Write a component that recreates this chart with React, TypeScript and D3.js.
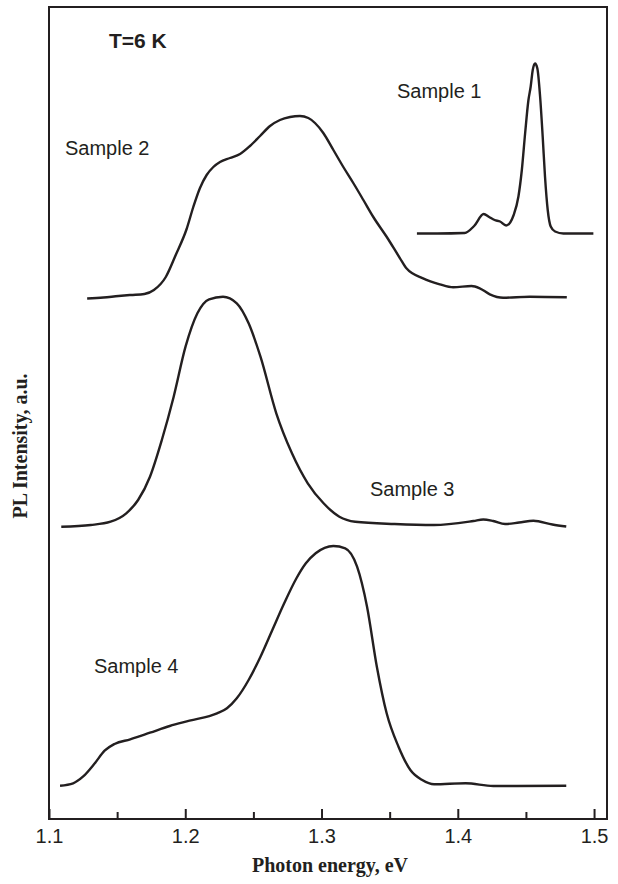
import React, { useEffect, useRef } from "react";
import * as d3 from "d3";

// Photon energy (eV) and PL intensity (a.u., above each trace's own baseline)
const sample1Energy = [1.37, 1.385, 1.405, 1.412, 1.419, 1.423, 1.427, 1.431, 1.4355, 1.441, 1.4445, 1.447, 1.4494, 1.4518, 1.4535, 1.455, 1.4567, 1.4584, 1.4604, 1.4623, 1.464, 1.466, 1.4682, 1.4714, 1.4775, 1.49, 1.4995];
const sample1Intensity = [0, 0, 0.5, 7.5, 19.5, 16.5, 13.5, 12, 8, 18.5, 37, 63.5, 100, 133, 147, 163.5, 170, 165, 137, 97, 57, 23.5, 7, 2, 0, 0, 0];

const sample2Energy = [1.128, 1.14, 1.151, 1.16, 1.17, 1.177, 1.1857, 1.193, 1.201, 1.2059, 1.2108, 1.2157, 1.2206, 1.2255, 1.2328, 1.2402, 1.2475, 1.2549, 1.2622, 1.2695, 1.2769, 1.2842, 1.2903, 1.2952, 1.3013, 1.3087, 1.316, 1.3233, 1.3307, 1.338, 1.3479, 1.3576, 1.3623, 1.3745, 1.3868, 1.3966, 1.4101, 1.4161, 1.4235, 1.4333, 1.4528, 1.48];
const sample2Intensity = [-1.5, -0.5, 1, 2, 3, 7, 20, 42, 68, 90, 109, 122, 130, 135, 139, 143, 151, 161, 171, 177, 180, 181, 179, 174, 164, 147, 130, 114, 97, 80, 60, 38.7, 28.7, 18.7, 12.7, 9.7, 11, 8.7, 2.7, -0.7, 0.3, -0.3];

const sample3Energy = [1.109, 1.1307, 1.1452, 1.1567, 1.1654, 1.1741, 1.1828, 1.1915, 1.2002, 1.2089, 1.2175, 1.2277, 1.2378, 1.2465, 1.2552, 1.2668, 1.2783, 1.2899, 1.3015, 1.3131, 1.3247, 1.3536, 1.3826, 1.4115, 1.4187, 1.426, 1.4347, 1.445, 1.4555, 1.4694, 1.4796];
const sample3Intensity = [-1.7, 0, 3.3, 11.7, 25, 48.3, 85, 128.3, 178.3, 211.7, 225.7, 228.3, 221.7, 201.7, 168.3, 111.7, 71.7, 41.7, 21.7, 8.3, 3.3, 1, 0, 4, 5.5, 4, 1, 2.5, 4.3, 0.5, -1.5];

const sample4Energy = [1.1081, 1.1177, 1.1249, 1.1336, 1.1408, 1.1481, 1.1596, 1.1741, 1.1886, 1.2031, 1.2233, 1.2306, 1.2378, 1.2465, 1.2552, 1.2639, 1.2726, 1.2813, 1.2885, 1.2957, 1.3087, 1.3174, 1.3261, 1.3334, 1.3406, 1.3478, 1.3565, 1.3652, 1.3739, 1.3826, 1.4057, 1.426, 1.4796];
const sample4Intensity = [-0.7, 1.7, 8.3, 21.7, 34.3, 41, 45.7, 52.3, 59, 64.3, 71.7, 76.7, 86.7, 105, 128.3, 155, 181.7, 206, 221.7, 231.7, 239, 236.7, 218.3, 178.3, 118.3, 71.7, 38.3, 15, 5, 0.7, 1.7, -1, -0.7];

// vertical offsets of the stacked traces (a.u.)
const sampleOffsets = [585.5, 522, 294, 34];
const sampleNames = ["Sample 1", "Sample 2", "Sample 3", "Sample 4"];

const majorTicks = [1.1, 1.2, 1.3, 1.4, 1.5];
const minorTicks = [1.15, 1.25, 1.35, 1.45];

const WIDTH = 618;
const HEIGHT = 884;
const SANS = "'Liberation Sans', Arial, sans-serif";
const SERIF = "'Liberation Serif', 'Times New Roman', serif";
const INK = "#231f20";

export default function App() {
  const svgRef = useRef<SVGSVGElement>(null);

  useEffect(() => {
    if (!svgRef.current) return;
    const svg = d3.select(svgRef.current);
    svg.selectAll("*").remove();

    const left = 49, right = 607, top = 7, bottom = 819;

    const x = d3.scaleLinear().domain([1.1, 1.5095]).range([left, right]);
    const y = d3.scaleLinear().domain([0, 812]).range([bottom, top]);

    const series = [
      { energy: sample1Energy, intensity: sample1Intensity },
      { energy: sample2Energy, intensity: sample2Intensity },
      { energy: sample3Energy, intensity: sample3Intensity },
      { energy: sample4Energy, intensity: sample4Intensity },
    ];

    const line = d3
      .line<[number, number]>()
      .x(d => x(d[0]))
      .y(d => y(d[1]))
      .curve(d3.curveMonotoneX);

    series.forEach((s, i) => {
      const pts: [number, number][] = s.energy.map((e, j) => [e, s.intensity[j] + sampleOffsets[i]]);
      svg.append("path")
        .datum(pts)
        .attr("fill", "none")
        .attr("stroke", INK)
        .attr("stroke-width", 2.4)
        .attr("stroke-linejoin", "round")
        .attr("d", line);
    });

    // frame
    svg.append("rect")
      .attr("x", left)
      .attr("y", top)
      .attr("width", right - left)
      .attr("height", bottom - top)
      .attr("fill", "none")
      .attr("stroke", INK)
      .attr("stroke-width", 2);

    // ticks pointing inward
    const axis = svg.append("g").attr("transform", `translate(0,${bottom})`);
    axis.call(
      d3.axisBottom(x)
        .tickValues(majorTicks)
        .tickSizeInner(-10)
        .tickSizeOuter(0)
        .tickPadding(10)
        .tickFormat(d3.format(".1f"))
    );
    axis.select(".domain").remove();
    axis.selectAll(".tick line").attr("stroke", INK).attr("stroke-width", 2);
    axis.selectAll(".tick text")
      .attr("fill", INK)
      .attr("font-family", SANS)
      .attr("font-size", 20);

    const minor = svg.append("g").attr("transform", `translate(0,${bottom})`);
    minor.call(
      d3.axisBottom(x)
        .tickValues(minorTicks)
        .tickSizeInner(-7)
        .tickSizeOuter(0)
        .tickFormat(() => "")
    );
    minor.select(".domain").remove();
    minor.selectAll(".tick line").attr("stroke", INK).attr("stroke-width", 2);

    // axis titles
    svg.append("text")
      .attr("x", (left + right) / 2 + 2)
      .attr("y", 872)
      .attr("text-anchor", "middle")
      .attr("font-family", SERIF)
      .attr("font-weight", "bold")
      .attr("font-size", 20)
      .attr("fill", INK)
      .text("Photon energy, eV");

    svg.append("text")
      .attr("transform", "translate(27,446) rotate(-90)")
      .attr("text-anchor", "middle")
      .attr("font-family", SERIF)
      .attr("font-weight", "bold")
      .attr("font-size", 20)
      .attr("fill", INK)
      .text("PL Intensity, a.u.");

    // annotations
    svg.append("text")
      .attr("x", 109)
      .attr("y", 48)
      .attr("font-family", SANS)
      .attr("font-weight", "bold")
      .attr("font-size", 21)
      .attr("fill", INK)
      .text("T=6 K");

    const labelPos = [
      [397, 98],
      [65, 155],
      [370, 496],
      [94, 673],
    ];
    sampleNames.forEach((name, i) => {
      svg.append("text")
        .attr("x", labelPos[i][0])
        .attr("y", labelPos[i][1])
        .attr("font-family", SANS)
        .attr("font-size", 20)
        .attr("fill", INK)
        .text(name);
    });
  }, []);

  return (
    <div style={{ position: "absolute", left: 0, top: 0 }}>
      <svg ref={svgRef} width={WIDTH} height={HEIGHT} style={{ display: "block", background: "#fff" }} />
    </div>
  );
}
